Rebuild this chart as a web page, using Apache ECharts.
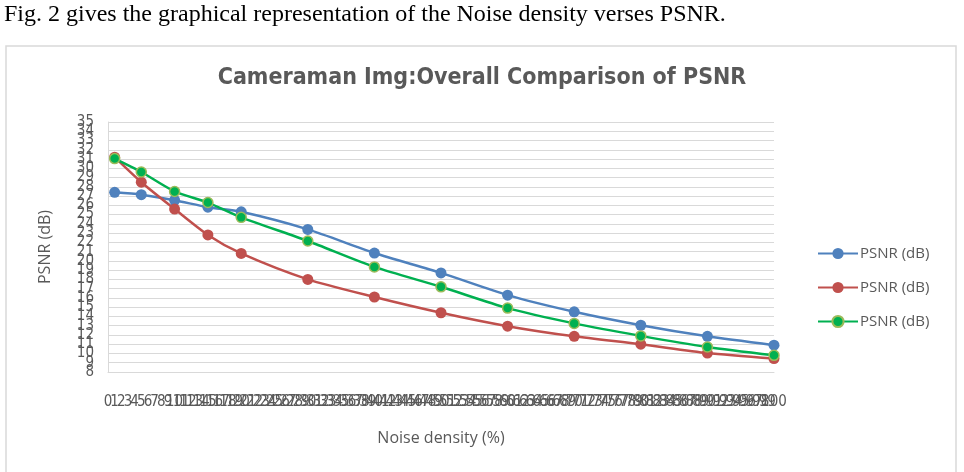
<!DOCTYPE html>
<html>
<head>
<meta charset="utf-8">
<script src="https://cdn.jsdelivr.net/npm/echarts@6/dist/echarts.min.js"></script>
<style>
html,body{margin:0;padding:0;background:#fff;}
#chart{width:964px;height:472px;}
</style>
</head>
<body>
<div id="chart"></div>
<script>
// ---- data ----
const captionText = 'Fig. 2 gives the graphical representation of the Noise density verses PSNR.';
const chartTitle = 'Cameraman Img:Overall Comparison of PSNR';
const xAxisTitle = 'Noise density (%)';
const yAxisTitle = 'PSNR (dB)';
const legendLabel = 'PSNR (dB)';
const seriesKeys = ['PSNR (dB) A', 'PSNR (dB) B', 'PSNR (dB) C'];

// x tick labels (category axis 0..100)
const xTickLabels = ['0','1','2','3','4','5','6','7','8','9','10','11','12','13','14','15','16','17','18','19','20',
  '21','22','23','24','25','26','27','28','29','30','31','32','33','34','35','36','37','38','39','40',
  '41','42','43','44','45','46','47','48','49','50','51','52','53','54','55','56','57','58','59','60',
  '61','62','63','64','65','66','67','68','69','70','71','72','73','74','75','76','77','78','79','80',
  '81','82','83','84','85','86','87','88','89','90','91','92','93','94','95','96','97','98','99','100'];

// noise density positions (category index on the 0..100 axis)
const noiseDensity = [1, 5, 10, 15, 20, 30, 40, 50, 60, 70, 80, 90, 100];
const psnrBlue  = [27.4, 27.15, 26.55, 25.8, 25.3, 23.4, 20.85, 18.7, 16.3, 14.5, 13.05, 11.85, 10.9];
const psnrRed   = [31.2, 28.5, 25.6, 22.8, 20.8, 18.0, 16.1, 14.4, 12.95, 11.85, 11.0, 10.05, 9.45];
const psnrGreen = [31.05, 29.6, 27.5, 26.3, 24.7, 22.15, 19.35, 17.2, 14.9, 13.25, 11.9, 10.7, 9.8];

const yMin = 8, yMax = 35, yStep = 1;

function pairs(xs, ys) { return xs.map((x, i) => [x, ys[i]]); }

const chart = echarts.init(document.getElementById('chart'), null, {renderer: 'canvas'});
const narrow = "'Liberation Sans Narrow','DejaVu Sans Condensed','Roboto Condensed',sans-serif";
const sans = "'Open Sans','Noto Sans',sans-serif";
const grey = '#595959';

function lineSeries(name, data, color, markerColor, borderColor, size) {
  return {
    name: name,
    type: 'line',
    yAxisIndex: 0,
    data: data,
    smooth: 0.25,
    symbol: 'circle',
    symbolSize: size,
    lineStyle: {color: color, width: 2.5},
    itemStyle: {color: markerColor, borderColor: borderColor, borderWidth: borderColor === markerColor ? 0 : 1.5},
    emphasis: {disabled: true},
    animation: false
  };
}

const yLabelStyle = {fontFamily: narrow, fontSize: 15, color: grey};

chart.setOption({
  animation: false,
  graphic: [
    {
      type: 'text', left: 4, top: 3, silent: true,
      style: {text: captionText, font: "24px 'Liberation Serif', 'DejaVu Serif', serif", fill: '#000'}
    },
    {
      type: 'rect', shape: {x: 6, y: 46, width: 950, height: 440}, silent: true,
      style: {fill: 'none', stroke: '#d9d9d9', lineWidth: 1.5}
    }
  ],
  title: {
    text: chartTitle,
    left: 'center',
    top: 62,
    textStyle: {fontFamily: "'DejaVu Sans Condensed','DejaVu Sans',sans-serif", fontWeight: 'bold', fontSize: 23, color: grey}
  },
  legend: {
    orient: 'vertical',
    left: 812,
    top: 241,
    itemWidth: 40,
    itemHeight: 14,
    itemGap: 19,
    data: seriesKeys,
    formatter: function () { return legendLabel; },
    textStyle: {fontFamily: sans, fontSize: 15, color: grey, padding: [0, 0, 0, -3]}
  },
  grid: {left: 108, right: 190, top: 122, bottom: 100, containLabel: false},
  xAxis: {
    type: 'category',
    data: xTickLabels,
    boundaryGap: false,
    name: xAxisTitle,
    nameLocation: 'middle',
    nameGap: 58,
    nameTextStyle: {fontFamily: sans, fontSize: 16, color: grey},
    axisLine: {show: true, lineStyle: {color: '#d9d9d9', width: 1}},
    axisTick: {show: false},
    splitLine: {show: false},
    axisLabel: {
      show: true, interval: 0, margin: 23, hideOverlap: false,
      fontFamily: narrow, fontSize: 15, color: grey
    }
  },
  yAxis: [
    {
      type: 'value',
      min: yMin, max: yMax, interval: yStep,
      position: 'left',
      name: yAxisTitle,
      nameLocation: 'middle',
      nameGap: 55,
      nameTextStyle: {fontFamily: sans, fontSize: 16, color: grey},
      axisLine: {show: true, lineStyle: {color: '#d9d9d9', width: 1}},
      axisTick: {show: false},
      splitLine: {show: true, lineStyle: {color: '#d9d9d9', width: 1}},
      axisLabel: Object.assign({show: true, margin: 14, hideOverlap: false,
        showMinLabel: false, showMaxLabel: false}, yLabelStyle)
    },
    {
      // companion axis on the same scale: draws the end labels (min/max)
      type: 'value',
      min: yMin, max: yMax, interval: yStep,
      position: 'left',
      offset: 0,
      axisLine: {show: false},
      axisTick: {show: false},
      splitLine: {show: false},
      axisLabel: Object.assign({show: true, margin: 14, hideOverlap: false,
        showMinLabel: true, showMaxLabel: true,
        formatter: function (v) { return (v === yMin || v === yMax) ? String(v) : ''; }}, yLabelStyle)
    }
  ],
  series: [
    lineSeries(seriesKeys[0], pairs(noiseDensity, psnrBlue), '#4F81BD', '#4F81BD', '#4F81BD', 11),
    lineSeries(seriesKeys[1], pairs(noiseDensity, psnrRed), '#C0504D', '#C0504D', '#C0504D', 11),
    lineSeries(seriesKeys[2], pairs(noiseDensity, psnrGreen), '#00B050', '#00B050', '#9BBB59', 10)
  ]
});
</script>
</body>
</html>
